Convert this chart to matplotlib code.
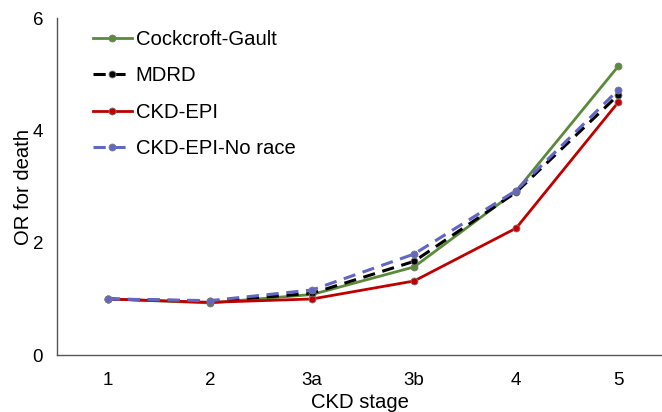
import numpy as np
import matplotlib.pyplot as plt

plt.rcParams['font.family'] = ['Liberation Sans', 'DejaVu Sans']

# CKD stages and odds ratios
stages = ['1', '2', '3a', '3b', '4', '5']
cockcroft_gault = [1.0, 0.93, 1.08, 1.57, 2.92, 5.14]
mdrd = [1.0, 0.96, 1.10, 1.67, 2.90, 4.63]
ckd_epi = [1.0, 0.94, 1.00, 1.32, 2.26, 4.50]
ckd_epi_no_race = [1.0, 0.97, 1.16, 1.80, 2.93, 4.72]

x = np.arange(len(stages))

fig = plt.figure(figsize=(6.62, 4.12), dpi=100)
ax = fig.add_axes([0.086, 0.138, 0.914, 0.818])

ax.plot(x, cockcroft_gault, color='#5a8a3a', lw=2.0, marker='o', ms=5,
        mec='#7a7a7a', mew=0.6, label='Cockcroft-Gault')
ax.plot(x, mdrd, color='black', lw=2.2, ls=(0, (4, 2.5)), marker='o', ms=5,
        mec='#7a7a7a', mew=0.6, label='MDRD')
ax.plot(x, ckd_epi, color='#c00000', lw=2.0, marker='o', ms=5,
        mec='#7a7a7a', mew=0.6, label='CKD-EPI')
ax.plot(x, ckd_epi_no_race, color='#6266c4', lw=2.2, ls=(0, (4, 2.5)), marker='o', ms=5,
        mec='#7a7a7a', mew=0.6, label='CKD-EPI-No race')

ax.set_xlim(-0.5, 5.43)
ax.set_ylim(0, 6)
ax.set_xticks(x)
ax.set_xticklabels(stages)
ax.set_yticks([0, 2, 4, 6])
ax.tick_params(length=0, labelsize=13.5)
ax.tick_params(axis='x', pad=12)
ax.tick_params(axis='y', pad=10)

for s in ['top', 'right']:
    ax.spines[s].set_visible(False)
for s in ['left', 'bottom']:
    ax.spines[s].set_color('#555555')
    ax.spines[s].set_linewidth(1.0)

ax.set_xlabel('CKD stage', fontsize=14.6)
ax.xaxis.set_label_coords(0.5, -0.112)
ax.set_ylabel('OR for death', fontsize=14.6)
ax.yaxis.set_label_coords(-0.04, 0.5)

ax.legend(loc='upper left', bbox_to_anchor=(0.06, 0.964), frameon=False,
          borderpad=0, borderaxespad=0, fontsize=14.6, handlelength=1.9,
          handletextpad=0.2, labelspacing=0.85)

fig.savefig('out.png', dpi=100)
